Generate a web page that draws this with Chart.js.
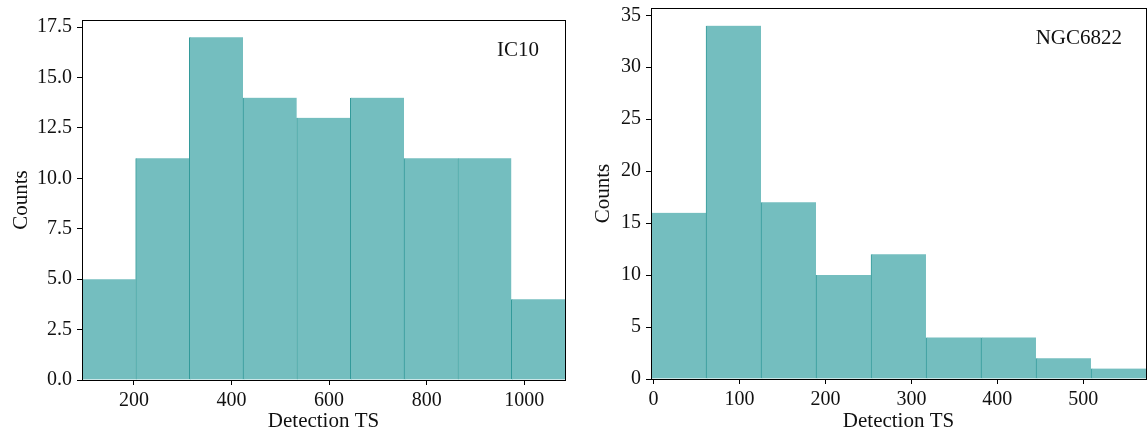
<!DOCTYPE html>
<html>
<head>
<meta charset="utf-8">
<script src="https://cdn.jsdelivr.net/npm/chart.js@4.4.1/dist/chart.umd.min.js"></script>
<style>
  html, body { margin: 0; padding: 0; background: #fff; }
  .panel { position: absolute; top: 0; width: 574px; height: 432px; }
  #leftPanel { left: 0; }
  #rightPanel { left: 574px; }
</style>
</head>
<body>
<div class="panel" id="leftPanel"><canvas id="ic10Chart"></canvas></div>
<div class="panel" id="rightPanel"><canvas id="ngcChart"></canvas></div>
<script>
// IC10 histogram: bin edges and counts
const ic10Edges  = [93.6, 203.6, 313.6, 423.6, 533.6, 643.6, 753.6, 863.6, 973.6, 1083.6];
const ic10Counts = [5, 11, 17, 14, 13, 14, 11, 11, 4];
const ic10XTicks = [200, 400, 600, 800, 1000];
const ic10YTicks = [0, 2.5, 5, 7.5, 10, 12.5, 15, 17.5];
const ic10YMax   = 17.85;

// NGC6822 histogram
const ngcEdges  = [-2.9, 61.1, 125.1, 189.0, 253.0, 317.0, 381.0, 444.9, 508.9, 572.9];
const ngcCounts = [16, 34, 17, 10, 12, 4, 4, 2, 1];
const ngcXTicks = [0, 100, 200, 300, 400, 500];
const ngcYTicks = [0, 5, 10, 15, 20, 25, 30, 35];
const ngcYMax   = 35.7;

const FONT = "'Liberation Serif', 'Times New Roman', serif";
const FILL = '#74bebf';
const EDGE = '#339a9a';

function binsToPoints(edges, counts) {
    return counts.map((c, i) => ({ x: (edges[i] + edges[i + 1]) / 2, y: c }));
}

// frame round the plot area plus the label in the top right corner
const framePlugin = {
    id: 'frame',
    afterDraw(chart, args, opts) {
        const { ctx, chartArea: a } = chart;
        ctx.save();
        ctx.strokeStyle = '#000';
        ctx.lineWidth = 1;
        ctx.strokeRect(Math.round(a.left) + 0.5, Math.round(a.top) + 0.5,
                       Math.round(a.right - a.left), Math.round(a.bottom - a.top));
        ctx.fillStyle = '#111';
        ctx.font = `21px ${FONT}`;
        ctx.textAlign = 'right';
        ctx.textBaseline = 'middle';
        ctx.fillText(opts.label, a.right - opts.dx, a.top + opts.dy);
        ctx.restore();
    }
};

function makeHist(canvasId, cfg) {
    return new Chart(document.getElementById(canvasId), {
        type: 'bar',
        data: {
            datasets: [{
                data: binsToPoints(cfg.edges, cfg.counts),
                backgroundColor: FILL,
                borderColor: EDGE,
                borderWidth: { left: 1, right: 0, top: 0, bottom: 0 },
                borderSkipped: false,
                barPercentage: 1,
                categoryPercentage: 1
            }]
        },
        plugins: [framePlugin],
        options: {
            responsive: true,
            maintainAspectRatio: false,
            animation: false,
            layout: { padding: cfg.padding },
            plugins: {
                legend: { display: false },
                tooltip: { enabled: false },
                frame: { label: cfg.label, dx: cfg.labelDx, dy: cfg.labelDy }
            },
            scales: {
                x: {
                    type: 'linear',
                    offset: false,
                    min: cfg.edges[0],
                    max: cfg.edges[cfg.edges.length - 1],
                    afterBuildTicks: s => { s.ticks = cfg.xTicks.map(v => ({ value: v })); },
                    afterFit: s => { s.height = cfg.xHeight; s.paddingLeft = 0; s.paddingRight = 0; },
                    border: { display: false },
                    grid: { offset: false, drawOnChartArea: false, drawTicks: true, tickLength: 5, color: '#000' },
                    ticks: {
                        color: '#111', padding: 4, maxRotation: 0, font: { family: FONT, size: 20 },
                        callback: v => String(v)
                    },
                    title: {
                        display: true, text: 'Detection TS', color: '#111',
                        font: { family: FONT, size: 21, lineHeight: 1.0 }, padding: { top: 0, bottom: 0 }
                    }
                },
                y: {
                    min: 0,
                    max: cfg.yMax,
                    afterBuildTicks: s => { s.ticks = cfg.yTicks.map(v => ({ value: v })); },
                    afterFit: s => { s.width = cfg.yWidth; s.paddingTop = 0; s.paddingBottom = 0; },
                    border: { display: false },
                    grid: { drawOnChartArea: false, drawTicks: true, tickLength: 5, color: '#000' },
                    ticks: {
                        color: '#111', padding: 5, font: { family: FONT, size: 20 },
                        callback: v => cfg.yFmt(v)
                    },
                    title: {
                        display: true, text: 'Counts', color: '#111',
                        font: { family: FONT, size: 21, lineHeight: 1.2 }, padding: { top: cfg.yTitlePad, bottom: 0 }
                    }
                }
            }
        }
    });
}

makeHist('ic10Chart', {
    edges: ic10Edges, counts: ic10Counts, xTicks: ic10XTicks, yTicks: ic10YTicks, yMax: ic10YMax,
    yFmt: v => v.toFixed(1), label: 'IC10', labelDx: 26, labelDy: 30,
    padding: { left: 0, top: 20, right: 9, bottom: 0 }, yWidth: 82, xHeight: 52, yTitlePad: 9
});

makeHist('ngcChart', {
    edges: ngcEdges, counts: ngcCounts, xTicks: ngcXTicks, yTicks: ngcYTicks, yMax: ngcYMax,
    yFmt: v => String(v), label: 'NGC6822', labelDx: 24, labelDy: 30,
    padding: { left: 0, top: 8, right: 2, bottom: 0 }, yWidth: 77, xHeight: 53, yTitlePad: 17
});
</script>
</body>
</html>
